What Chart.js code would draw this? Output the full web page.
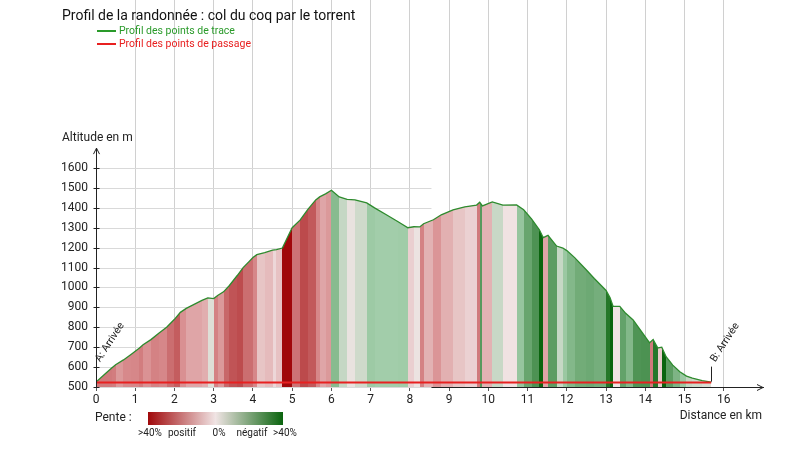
<!DOCTYPE html>
<html>
<head>
<meta charset="utf-8">
<script src="https://cdn.jsdelivr.net/npm/chart.js@4.4.1/dist/chart.umd.min.js"></script>
<style>
  html, body { margin: 0; padding: 0; background: #fff; }
  #wrap { width: 800px; height: 472px; position: relative; }
</style>
</head>
<body>
<div id="wrap"><canvas id="profil"></canvas></div>
<script>
// profil des points de trace (km / m)
const distKm = [0, 0.2, 0.4, 0.5, 0.7, 0.9, 1.1, 1.2, 1.4, 1.6, 1.8, 2.0, 2.15, 2.3, 2.5, 2.7, 2.85, 3.0, 3.1, 3.25,
  3.4, 3.6, 3.75, 3.9, 4.0, 4.1, 4.3, 4.5, 4.6, 4.75, 4.9, 5.0, 5.2, 5.4, 5.6, 5.7, 5.85, 6.0, 6.2, 6.4,
  6.6, 6.9, 7.1, 7.4, 7.7, 7.95, 8.1, 8.25, 8.35, 8.6, 8.8, 9.1, 9.4, 9.7, 9.78, 9.85, 10.1, 10.37, 10.72, 10.9,
  11.1, 11.3, 11.4, 11.52, 11.74, 11.9, 12.0, 12.2, 12.5, 12.7, 13.0, 13.1, 13.18, 13.35, 13.5, 13.69, 13.9, 14.11, 14.2, 14.32,
  14.42, 14.53, 14.7, 14.88, 15.05, 15.2, 15.45, 15.68];
const altM = [525, 560, 595, 612, 636, 665, 695, 712, 738, 770, 800, 840, 875, 895, 915, 935, 948, 944, 960, 978,
  1010, 1060, 1100, 1130, 1150, 1165, 1175, 1188, 1190, 1198, 1260, 1300, 1338, 1392, 1440, 1455, 1470, 1488, 1455, 1442,
  1440, 1425, 1400, 1365, 1330, 1300, 1305, 1304, 1320, 1340, 1365, 1390, 1405, 1414, 1428, 1410, 1430, 1414, 1415, 1390,
  1345, 1290, 1250, 1262, 1208, 1198, 1185, 1150, 1088, 1045, 985, 950, 905, 905, 870, 837, 780, 722, 738, 696,
  700, 652, 610, 577, 555, 545, 532, 524];

// profil des points de passage
const passageKm = [0, 15.68];
const passageAlt = [522, 522];
const passageLabels = ['A: Arrivée', 'B: Arrivée'];

const yTicks = [500, 600, 700, 800, 900, 1000, 1100, 1200, 1300, 1400, 1500, 1600];
const xTicks = [0, 1, 2, 3, 4, 5, 6, 7, 8, 9, 10, 11, 12, 13, 14, 15, 16];
const penteLabels = ['>40%', 'positif', '0%', 'négatif', '>40%'];

// rampes de couleur : [t, r, g, b]
const RAMPE_ROUGE = [[0, 240, 228, 228], [0.35, 216, 140, 142], [1, 160, 8, 10]];
const RAMPE_VERT = [[0, 240, 228, 228], [0.3, 160, 204, 168], [1, 10, 100, 14]];

function couleurPente(p) {
  const t = Math.min(Math.abs(p) / 0.4, 1);
  const r = p >= 0 ? RAMPE_ROUGE : RAMPE_VERT;
  let k = 0;
  while (k < r.length - 2 && t > r[k + 1][0]) k++;
  const a = r[k], b = r[k + 1];
  const u = (t - a[0]) / (b[0] - a[0]);
  const m = [1, 2, 3].map(i => Math.round(a[i] + (b[i] - a[i]) * u));
  return `rgb(${m[0]},${m[1]},${m[2]})`;
}

function fondPente(context) {
  const chart = context.chart;
  const area = chart.chartArea;
  if (!area) return 'rgb(240,228,228)';
  const x = chart.scales.x;
  const x0 = x.getPixelForValue(distKm[0]);
  const x1 = x.getPixelForValue(distKm[distKm.length - 1]);
  const g = chart.ctx.createLinearGradient(x0, 0, x1, 0);
  const span = x1 - x0;
  for (let i = 0; i < distKm.length - 1; i++) {
    const p = (altM[i + 1] - altM[i]) / ((distKm[i + 1] - distKm[i]) * 1000);
    const col = couleurPente(p);
    g.addColorStop((x.getPixelForValue(distKm[i]) - x0) / span, col);
    g.addColorStop((x.getPixelForValue(distKm[i + 1]) - x0) / span, col);
  }
  return g;
}

const decor = {
  id: 'decor',
  beforeDatasetsDraw(chart) {
    const { ctx, scales: { x, y } } = chart;
    ctx.save();
    ctx.strokeStyle = '#d9d9d9';
    ctx.lineWidth = 1;
    const xr = x.getPixelForValue(8.55);
    yTicks.forEach(v => {
      const py = Math.round(y.getPixelForValue(v)) + 0.5;
      ctx.beginPath();
      ctx.moveTo(x.left, py);
      ctx.lineTo(xr, py);
      ctx.stroke();
    });
    ctx.restore();
  },
  afterDraw(chart) {
    const { ctx, scales: { x, y } } = chart;
    ctx.save();
    // axe des altitudes
    const ax = Math.round(x.left) + 0.5;
    const top = y.getPixelForValue(1700);
    ctx.strokeStyle = '#222';
    ctx.lineWidth = 1;
    ctx.beginPath();
    ctx.moveTo(ax, y.bottom);
    ctx.lineTo(ax, top);
    ctx.moveTo(ax - 3, top + 6);
    ctx.lineTo(ax, top);
    ctx.lineTo(ax + 3, top + 6);
    yTicks.forEach(v => {
      const py = Math.round(y.getPixelForValue(v)) + 0.5;
      ctx.moveTo(ax - 3, py);
      ctx.lineTo(ax + 3, py);
    });
    // fleche de l'axe des distances
    const by = Math.round(y.bottom) + 0.5;
    ctx.moveTo(x.right - 6, by - 3);
    ctx.lineTo(x.right, by);
    ctx.lineTo(x.right - 6, by + 3);
    ctx.stroke();

    ctx.fillStyle = '#222';
    ctx.font = '12px Roboto';
    ctx.textBaseline = 'middle';
    ctx.textAlign = 'left';
    ctx.fillText('Altitude en m', 62, 138);
    ctx.textAlign = 'right';
    ctx.fillText('Distance en km', 762, 416);

    // titre et legende
    ctx.textAlign = 'left';
    ctx.font = '14px Roboto';
    ctx.fillStyle = '#111';
    ctx.fillText('Profil de la randonnée : col du coq par le torrent', 62, 16);
    ctx.font = '10.5px Roboto';
    ctx.lineWidth = 2;
    ctx.strokeStyle = '#2a9a2a';
    ctx.beginPath(); ctx.moveTo(97, 31); ctx.lineTo(116, 31); ctx.stroke();
    ctx.fillStyle = '#2a9a2a';
    ctx.fillText('Profil des points de trace', 119, 31);
    ctx.strokeStyle = '#e82020';
    ctx.beginPath(); ctx.moveTo(97, 44); ctx.lineTo(116, 44); ctx.stroke();
    ctx.fillStyle = '#e82020';
    ctx.fillText('Profil des points de passage', 119, 44);

    // pente
    ctx.fillStyle = '#222';
    ctx.font = '12px Roboto';
    ctx.fillText('Pente :', 95, 418);
    const g = ctx.createLinearGradient(148, 0, 283, 0);
    g.addColorStop(0, couleurPente(0.4));
    g.addColorStop(0.5, couleurPente(0));
    g.addColorStop(1, couleurPente(-0.4));
    ctx.fillStyle = g;
    ctx.fillRect(148, 412, 135, 13);
    ctx.fillStyle = '#222';
    ctx.font = '10px Roboto';
    ctx.textAlign = 'center';
    const lx = [150, 182, 219, 252, 285];
    penteLabels.forEach((t, i) => ctx.fillText(t, lx[i], 433));

    // etiquettes des points de passage
    ctx.font = '10.5px Roboto';
    ctx.textAlign = 'left';
    ctx.textBaseline = 'alphabetic';
    passageKm.forEach((km, i) => {
      const px = x.getPixelForValue(km);
      const py = y.getPixelForValue(passageAlt[i]);
      if (i > 0) {
        ctx.lineWidth = 1;
        ctx.strokeStyle = '#222';
        ctx.beginPath();
        ctx.moveTo(Math.round(px) + 0.5, py - 1);
        ctx.lineTo(Math.round(px) + 0.5, py - 16);
        ctx.stroke();
      }
      ctx.save();
      ctx.translate(px + 4, py - 20);
      ctx.rotate(-57 * Math.PI / 180);
      ctx.fillText(passageLabels[i], 0, 0);
      ctx.restore();
    });
    ctx.restore();
  }
};

Chart.defaults.font.family = 'Roboto';
Chart.defaults.color = '#222';

new Chart(document.getElementById('profil').getContext('2d'), {
  type: 'line',
  data: {
    datasets: [{
      label: 'Profil des points de passage',
      data: passageKm.map((k, i) => ({ x: k, y: passageAlt[i] })),
      borderColor: '#e82020',
      borderWidth: 2,
      pointRadius: 0,
      fill: false
    }, {
      label: 'Profil des points de trace',
      data: distKm.map((k, i) => ({ x: k, y: altM[i] })),
      borderColor: '#2e8b2e',
      borderWidth: 1.3,
      pointRadius: 0,
      tension: 0,
      fill: 'start',
      backgroundColor: fondPente
    }]
  },
  options: {
    responsive: true,
    maintainAspectRatio: false,
    animation: false,
    layout: { padding: { top: 0, right: 37, bottom: 0, left: 0 } },
    plugins: {
      legend: { display: false },
      title: { display: false },
      tooltip: { enabled: false }
    },
    scales: {
      x: {
        type: 'linear',
        bounds: 'data',
        min: 0,
        max: 17,
        afterFit: s => { s.height = 85; s.paddingLeft = 0; s.paddingRight = 0; },
        afterBuildTicks: s => { s.ticks = xTicks.concat([17]).map(v => ({ value: v })); },
        ticks: {
          font: { size: 12 },
          padding: 2,
          maxRotation: 0,
          callback: v => (xTicks.includes(v) ? String(v) : '')
        },
        grid: {
          color: c => (c.tick && c.tick.value > 0 && c.tick.value <= 16 ? '#d0d0d0' : 'rgba(0,0,0,0)'),
          tickColor: c => (c.tick && c.tick.value <= 16 ? '#555' : 'rgba(0,0,0,0)'),
          tickLength: 4
        },
        border: { display: true, color: '#222' }
      },
      y: {
        type: 'linear',
        bounds: 'data',
        min: 500,
        max: 2444,
        afterFit: s => { s.width = 96; s.paddingTop = 0; s.paddingBottom = 0; },
        afterBuildTicks: s => { s.ticks = yTicks.map(v => ({ value: v })); },
        ticks: { font: { size: 12 }, padding: 8, callback: v => String(v) },
        grid: { display: false, drawTicks: false },
        border: { display: false }
      }
    }
  },
  plugins: [decor]
});
</script>
</body>
</html>
